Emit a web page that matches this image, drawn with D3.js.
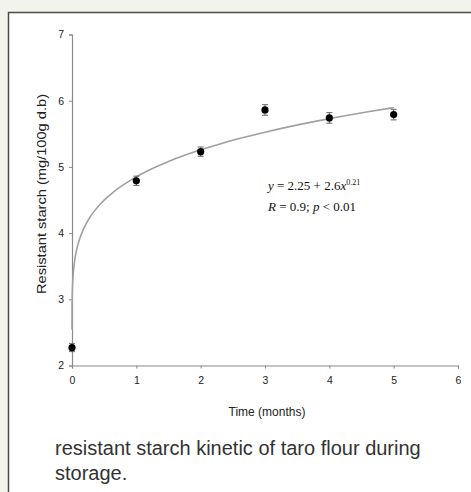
<!DOCTYPE html>
<html>
<head>
<meta charset="utf-8">
<script src="https://cdn.jsdelivr.net/npm/d3@7"></script>
<style>
  body{margin:0;background:#f3f3ee;}
  #chart{position:absolute;left:0;top:0;}
  .tick text{font-family:"Liberation Sans",Arial,sans-serif;font-size:10.5px;fill:#222;}
  .domain,.tick line{stroke:#8a8a8a;}
</style>
</head>
<body>
<div id="chart"></div>
<script>
// data
const months=[0,1,2,3,4,5]
const starch=[2.27,4.79,5.23,5.86,5.74,5.79]
const errors=[0.06,0.07,0.07,0.08,0.08,0.08]
const xTicks=[0,1,2,3,4,5,6]
const yTicks=[2,3,4,5,6,7]
// fit printed on the chart: y = a + b*x^c
const fitParams=[2.25,2.6,0.21]
const fitX=[0.00003,0.0001,0.0003,0.001,0.002,0.004,0.007,0.01,0.015,0.02,0.03,0.045,0.06,0.08,0.1,0.13,0.17,0.22,0.28,0.35,0.43,0.52,0.62,0.75,0.9,1.05,1.25,1.5,1.75,2,2.3,2.6,3,3.4,3.8,4.2,4.6,5]

const W=471,H=492
const x=d3.scaleLinear().domain([0,6]).range([72,458])
const y=d3.scaleLinear().domain([2,7]).range([365.5,34.5])

const svg=d3.select("#chart").append("svg")
  .attr("width",W).attr("height",H)

// white panel with frame
svg.append("rect").attr("x",8.5).attr("y",12.5).attr("width",W).attr("height",H)
  .attr("fill","#fff").attr("stroke","#4a4a4a").attr("stroke-width",1.5)

// axes
svg.append("g")
  .attr("transform","translate(0,365.5)")
  .call(d3.axisBottom(x).tickValues(xTicks).tickFormat(d3.format("d")).tickSize(3).tickPadding(8).tickSizeOuter(3))
svg.append("g")
  .attr("transform","translate(72,0)")
  .call(d3.axisLeft(y).tickValues(yTicks).tickFormat(d3.format("d")).tickSize(3).tickPadding(5).tickSizeOuter(3))
svg.selectAll(".domain").attr("stroke-width",1.2)

// fitted curve
const fit=(t)=>fitParams[0]+fitParams[1]*Math.pow(t,fitParams[2])
svg.append("path")
  .datum(fitX)
  .attr("fill","none")
  .attr("stroke","#a0a0a0")
  .attr("stroke-width",1.6)
  .attr("d",d3.line().x(d=>x(d)).y(d=>y(fit(d))).curve(d3.curveMonotoneX))

// error bars
const pts=months.map((m,i)=>({m:m,v:starch[i],e:errors[i]}))
const eb=svg.append("g").attr("stroke","#666").attr("stroke-width",1)
eb.selectAll(".v").data(pts).enter().append("line")
  .attr("x1",d=>x(d.m)).attr("x2",d=>x(d.m))
  .attr("y1",d=>y(d.v+d.e)).attr("y2",d=>y(d.v-d.e))
eb.selectAll(".t").data(pts).enter().append("line")
  .attr("x1",d=>x(d.m)-3).attr("x2",d=>x(d.m)+3)
  .attr("y1",d=>y(d.v+d.e)).attr("y2",d=>y(d.v+d.e))
eb.selectAll(".b").data(pts).enter().append("line")
  .attr("x1",d=>x(d.m)-3).attr("x2",d=>x(d.m)+3)
  .attr("y1",d=>y(d.v-d.e)).attr("y2",d=>y(d.v-d.e))

// points
svg.selectAll("circle").data(pts).enter().append("circle")
  .attr("cx",d=>x(d.m)).attr("cy",d=>y(d.v)).attr("r",3.6)
  .attr("fill","#000")

// equation
const eq=svg.append("text")
  .attr("x",268).attr("y",190)
  .style("font-family","'Liberation Serif','Times New Roman',serif")
  .style("font-size","13px").attr("fill","#111")
eq.append("tspan").style("font-style","italic").text("y")
eq.append("tspan").text(" = 2.25 + 2.6")
eq.append("tspan").style("font-style","italic").text("x")
eq.append("tspan").attr("dy",-5).style("font-size","8px").text("0.21")

const rp=svg.append("text")
  .attr("x",268).attr("y",211)
  .style("font-family","'Liberation Serif','Times New Roman',serif")
  .style("font-size","13px").attr("fill","#111")
rp.append("tspan").style("font-style","italic").text("R")
rp.append("tspan").text(" = 0.9; ")
rp.append("tspan").style("font-style","italic").text("p")
rp.append("tspan").text(" < 0.01")

// axis titles
svg.append("text")
  .attr("x",267).attr("y",416)
  .attr("text-anchor","middle")
  .style("font-family","'Liberation Sans',Arial,sans-serif")
  .style("font-size","12px").attr("fill","#222")
  .text("Time (months)")

svg.append("text")
  .attr("transform","translate(46,194) rotate(-90)")
  .attr("text-anchor","middle")
  .attr("textLength",200).attr("lengthAdjust","spacingAndGlyphs")
  .style("font-family","'Liberation Sans',Arial,sans-serif")
  .style("font-size","13px").attr("fill","#222")
  .text("Resistant starch (mg/100g d.b)")

// caption
const cap=svg.append("text")
  .style("font-family","'Liberation Sans',Arial,sans-serif")
  .style("font-size","20px").attr("fill","#333")
cap.append("tspan").attr("x",55).attr("y",455).text("resistant starch kinetic of taro flour during")
cap.append("tspan").attr("x",55).attr("y",480).text("storage.")
</script>
</body>
</html>
